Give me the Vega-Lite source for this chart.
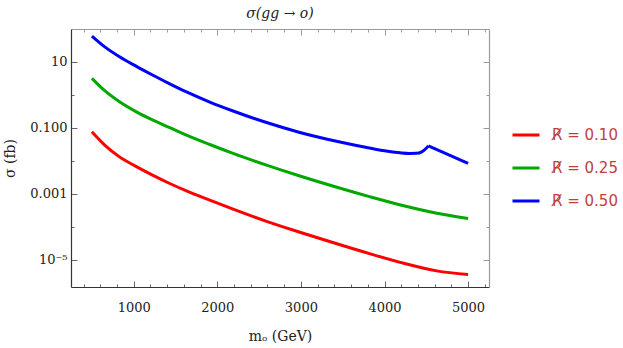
{
  "$schema": "https://vega.github.io/schema/vega-lite/v6.json",
  "width": 418,
  "height": 258,
  "autosize": "none",
  "padding": {"left": 71, "top": 29, "right": 134, "bottom": 61},
  "background": "white",
  "title": {"text": "σ(gg → o)", "font": "DejaVu Serif", "fontSize": 14, "fontStyle": "italic", "fontWeight": "normal", "color": "#222", "anchor": "middle", "offset": 8},
  "config": {"view": {"stroke": null}},
  "datasets": {
    "curves": [
      {"series": "R̸ = 0.10", "m": 500, "sigma": 0.0757},
      {"series": "R̸ = 0.10", "m": 650, "sigma": 0.0305},
      {"series": "R̸ = 0.10", "m": 830, "sigma": 0.01321},
      {"series": "R̸ = 0.10", "m": 1032, "sigma": 0.00668},
      {"series": "R̸ = 0.10", "m": 1231, "sigma": 0.00363},
      {"series": "R̸ = 0.10", "m": 1431, "sigma": 0.002065},
      {"series": "R̸ = 0.10", "m": 1631, "sigma": 0.001233},
      {"series": "R̸ = 0.10", "m": 1910, "sigma": 0.000646},
      {"series": "R̸ = 0.10", "m": 2189, "sigma": 0.000347},
      {"series": "R̸ = 0.10", "m": 2589, "sigma": 0.000148},
      {"series": "R̸ = 0.10", "m": 2988, "sigma": 0.0000692},
      {"series": "R̸ = 0.10", "m": 3430, "sigma": 0.0000309},
      {"series": "R̸ = 0.10", "m": 3830, "sigma": 0.0000153},
      {"series": "R̸ = 0.10", "m": 4230, "sigma": 0.00000794},
      {"series": "R̸ = 0.10", "m": 4625, "sigma": 0.00000468},
      {"series": "R̸ = 0.10", "m": 5000, "sigma": 0.00000361},
      {"series": "R̸ = 0.25", "m": 500, "sigma": 3.14},
      {"series": "R̸ = 0.25", "m": 650, "sigma": 1.35},
      {"series": "R̸ = 0.25", "m": 830, "sigma": 0.614},
      {"series": "R̸ = 0.25", "m": 1032, "sigma": 0.305},
      {"series": "R̸ = 0.25", "m": 1231, "sigma": 0.171},
      {"series": "R̸ = 0.25", "m": 1431, "sigma": 0.1012},
      {"series": "R̸ = 0.25", "m": 1631, "sigma": 0.0603},
      {"series": "R̸ = 0.25", "m": 1910, "sigma": 0.03126},
      {"series": "R̸ = 0.25", "m": 2189, "sigma": 0.01679},
      {"series": "R̸ = 0.25", "m": 2589, "sigma": 0.00741},
      {"series": "R̸ = 0.25", "m": 2988, "sigma": 0.00347},
      {"series": "R̸ = 0.25", "m": 3430, "sigma": 0.001585},
      {"series": "R̸ = 0.25", "m": 3830, "sigma": 0.000813},
      {"series": "R̸ = 0.25", "m": 4230, "sigma": 0.000437},
      {"series": "R̸ = 0.25", "m": 4625, "sigma": 0.00026},
      {"series": "R̸ = 0.25", "m": 5000, "sigma": 0.00018},
      {"series": "R̸ = 0.50", "m": 500, "sigma": 60.1},
      {"series": "R̸ = 0.50", "m": 650, "sigma": 28.8},
      {"series": "R̸ = 0.50", "m": 830, "sigma": 14.2},
      {"series": "R̸ = 0.50", "m": 1032, "sigma": 7.24},
      {"series": "R̸ = 0.50", "m": 1231, "sigma": 3.89},
      {"series": "R̸ = 0.50", "m": 1431, "sigma": 2.14},
      {"series": "R̸ = 0.50", "m": 1631, "sigma": 1.216},
      {"series": "R̸ = 0.50", "m": 1910, "sigma": 0.6026},
      {"series": "R̸ = 0.50", "m": 2189, "sigma": 0.3236},
      {"series": "R̸ = 0.50", "m": 2589, "sigma": 0.1445},
      {"series": "R̸ = 0.50", "m": 2988, "sigma": 0.0724},
      {"series": "R̸ = 0.50", "m": 3467, "sigma": 0.03715},
      {"series": "R̸ = 0.50", "m": 3866, "sigma": 0.02317},
      {"series": "R̸ = 0.50", "m": 4000, "sigma": 0.02018},
      {"series": "R̸ = 0.50", "m": 4186, "sigma": 0.01758},
      {"series": "R̸ = 0.50", "m": 4300, "sigma": 0.0168},
      {"series": "R̸ = 0.50", "m": 4380, "sigma": 0.0169},
      {"series": "R̸ = 0.50", "m": 4446, "sigma": 0.01875},
      {"series": "R̸ = 0.50", "m": 4485, "sigma": 0.0221},
      {"series": "R̸ = 0.50", "m": 4525, "sigma": 0.0285}
    ],
    "tail": [
      {"series": "R̸ = 0.50", "m": 4525, "sigma": 0.0285},
      {"series": "R̸ = 0.50", "m": 5000, "sigma": 0.00834}
    ]
  },
  "layer": [
    {
      "data": {"name": "curves"},
      "mark": {"type": "line", "strokeWidth": 3, "interpolate": "monotone", "clip": true},
      "encoding": {
        "x": {"field": "m", "type": "quantitative",
          "scale": {"domain": [250, 5250], "nice": false, "zero": false},
          "axis": {"orient": "bottom", "grid": false,
            "values": [400, 600, 800, 1000, 1200, 1400, 1600, 1800, 2000, 2200, 2400, 2600, 2800, 3000, 3200, 3400, 3600, 3800, 4000, 4200, 4400, 4600, 4800, 5000, 5200],
            "format": "d",
            "labelExpr": "datum.value % 1000 === 0 ? datum.label : ''",
            "tickSize": {"condition": {"test": "datum.value % 1000 === 0", "value": -6}, "value": -3},
            "labelPadding": 20,
            "domainColor": "#333", "tickColor": "#666", "domainWidth": 1.2,
            "labelFont": "DejaVu Serif", "labelFontSize": 13, "labelColor": "#222",
            "title": "mₒ (GeV)", "titleFont": "DejaVu Serif", "titleFontSize": 14, "titleFontWeight": "normal", "titleColor": "#222", "titlePadding": 15}},
        "y": {"field": "sigma", "type": "quantitative",
          "scale": {"type": "log", "domain": [1.52e-6, 98], "nice": false},
          "axis": {"orient": "left", "grid": false,
            "values": [0.00001, 0.0001, 0.001, 0.01, 0.1, 1, 10],
            "labelExpr": "round(log(datum.value)/LN10) == 1 ? '10' : round(log(datum.value)/LN10) == -1 ? '0.100' : round(log(datum.value)/LN10) == -3 ? '0.001' : round(log(datum.value)/LN10) == -5 ? '10⁻⁵' : ''",
            "tickSize": {"condition": {"test": "abs(round(log(datum.value)/LN10)) % 2 == 1", "value": -6}, "value": -3},
            "labelPadding": 10,
            "domainColor": "#333", "tickColor": "#666", "domainWidth": 1.2,
            "labelFont": "DejaVu Serif", "labelFontSize": 13, "labelColor": "#222",
            "title": "σ (fb)", "titleFont": "DejaVu Serif", "titleFontSize": 14, "titleFontWeight": "normal", "titleColor": "#222", "titlePadding": 12}},
        "color": {"field": "series", "type": "nominal",
          "scale": {"domain": ["R̸ = 0.10", "R̸ = 0.25", "R̸ = 0.50"], "range": ["#ff0000", "#00a800", "#0000ff"]},
          "legend": {"orient": "none", "legendX": 440, "legendY": 91, "title": null,
            "symbolType": "stroke", "symbolStrokeWidth": 3, "symbolSize": 729,
            "labelFont": "DejaVu Sans", "labelFontSize": 15, "labelColor": "#bf3f3f", "labelOffset": 11, "rowPadding": 10}}
      }
    },
    {
      "data": {"name": "tail"},
      "mark": {"type": "line", "strokeWidth": 3, "interpolate": "linear", "clip": true},
      "encoding": {
        "x": {"field": "m", "type": "quantitative", "axis": null},
        "y": {"field": "sigma", "type": "quantitative", "axis": null},
        "color": {"field": "series", "type": "nominal"}
      }
    },
    {
      "data": {"name": "curves"},
      "mark": {"type": "line", "opacity": 0},
      "encoding": {
        "x": {"field": "m", "type": "quantitative",
          "axis": {"orient": "top", "grid": false, "labels": false, "title": null,
            "values": [400, 600, 800, 1000, 1200, 1400, 1600, 1800, 2000, 2200, 2400, 2600, 2800, 3000, 3200, 3400, 3600, 3800, 4000, 4200, 4400, 4600, 4800, 5000, 5200],
            "tickSize": {"condition": {"test": "datum.value % 1000 === 0", "value": -6}, "value": -3},
            "domainColor": "#999", "tickColor": "#999", "domainWidth": 1.2}},
        "y": {"field": "sigma", "type": "quantitative",
          "axis": {"orient": "right", "grid": false, "labels": false, "title": null,
            "values": [0.00001, 0.0001, 0.001, 0.01, 0.1, 1, 10],
            "tickSize": {"condition": {"test": "abs(round(log(datum.value)/LN10)) % 2 == 1", "value": -6}, "value": -3},
            "domainColor": "#999", "tickColor": "#999", "domainWidth": 1.2}},
        "detail": {"field": "series"}
      }
    }
  ],
  "resolve": {"axis": {"x": "independent", "y": "independent"}}
}
